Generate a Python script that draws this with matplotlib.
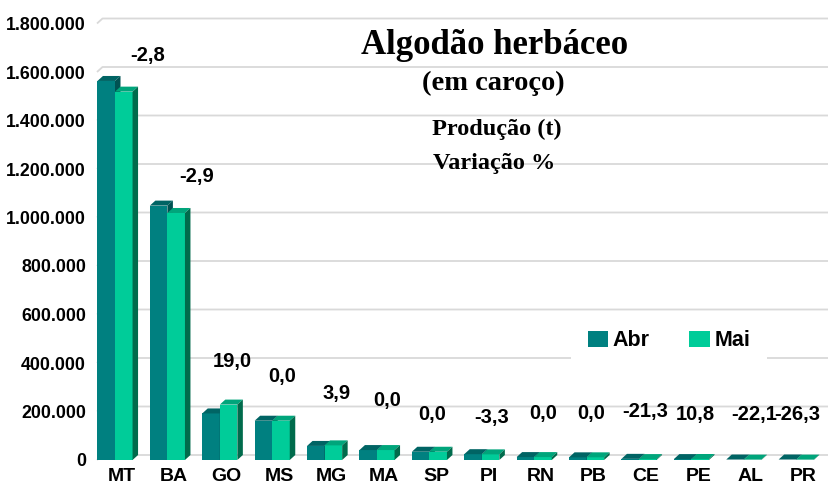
import matplotlib
matplotlib.use('Agg')
import matplotlib.pyplot as plt
from matplotlib.patches import Polygon, Patch
import numpy as np

# ---------------- data ----------------
states = ['MT', 'BA', 'GO', 'MS', 'MG', 'MA', 'SP', 'PI', 'RN', 'PB', 'CE', 'PE', 'AL', 'PR']
abr = [1563000, 1049000, 192000, 162000, 58000, 41000, 34000, 24000, 12000, 11000, 4700, 3700, 1900, 2000]
mai = [1519000, 1018600, 228500, 162000, 60300, 41000, 34000, 23200, 12000, 11000, 3700, 4100, 1500, 1500]
variacao = ['-2,8', '-2,9', '19,0', '0,0', '3,9', '0,0', '0,0', '-3,3', '0,0', '0,0',
            '-21,3', '10,8', '-22,1', '-26,3']
series_names = ['Abr', 'Mai']
yticks = list(range(0, 1800001, 200000))

# ---------------- style ----------------
W, H = 830, 484
SANS = 'Liberation Sans'
SERIF = 'Liberation Serif'
abr_front, abr_top, abr_side = '#008080', '#006464', '#005252'
mai_front, mai_top, mai_side = '#00CC99', '#00A57B', '#006B4C'
grid_c = '#D9D9D9'

fig = plt.figure(figsize=(W / 100, H / 100), dpi=100)
fig.patch.set_facecolor('white')

px_unit = 52.4            # pixels per category
x0_px, y0_px, ytop_px = 115, 460, 23.5
left_px, right_px = 97, 823
xmin = -(x0_px - left_px) / px_unit
xmax = (right_px - x0_px) / px_unit
ax = fig.add_axes([left_px / W, (H - y0_px) / H, (right_px - left_px) / W, (y0_px - ytop_px) / H])
ax.set_xlim(xmin, xmax)
ax.set_ylim(0, 1800000)
for s in ax.spines.values():
    s.set_visible(False)
ax.set_facecolor('none')

ppv = (y0_px - ytop_px) / 1800000   # pixels per value
dx = 5.5 / px_unit
dy = 5.0 / ppv
w = 0.335

# back-wall gridlines (3D look)
xr = (W - 2 - x0_px) / px_unit
for v in yticks:
    ax.plot([xmin, xmin + dx, xr], [v, v + dy, v + dy], color=grid_c, lw=1.3,
            zorder=1, clip_on=False, solid_capstyle='butt')

x = np.arange(len(states))


def bar3d(xl, h, front, top, side, z):
    xr_ = xl + w
    ax.add_patch(Polygon([(xl, h), (xr_, h), (xr_ + dx, h + dy), (xl + dx, h + dy)],
                         closed=True, facecolor=top, edgecolor='none', zorder=z))
    ax.add_patch(Polygon([(xr_, 0), (xr_ + dx, dy), (xr_ + dx, h + dy), (xr_, h)],
                         closed=True, facecolor=side, edgecolor='none', zorder=z))


ax.bar(x - w / 2, abr, width=w, color=abr_front, zorder=3, linewidth=0)
for xi, h in zip(x, abr):
    bar3d(xi - w, h, abr_front, abr_top, abr_side, 3)
ax.bar(x + w / 2, mai, width=w, color=mai_front, zorder=4, linewidth=0)
for xi, h in zip(x, mai):
    bar3d(xi, h, mai_front, mai_top, mai_side, 4)

# ticks
ax.set_yticks(yticks)
ax.set_yticklabels([f"{v:,}".replace(',', '.') for v in yticks],
                   fontsize=12.8, fontweight='bold', family=SANS)
ax.set_xticks(x + 0.13)
ax.set_xticklabels(states, fontsize=14, fontweight='bold', family=SANS)
ax.tick_params(axis='y', length=0, pad=8)
ax.tick_params(axis='x', length=0, pad=6)

# variation labels (positions in category offset / data height)
lab_dx = [0.63, 0.56, 0.24, 0.19, 0.22, 0.19, 0.06, 0.18, 0.17, 0.09, 0.12, 0.07, 0.20, 0.02]
lab_y = [1670000, 1169000, 408000, 344000, 274000, 247000, 186000, 177000, 192000, 192000,
         202000, 186000, 186000, 186000]
for xi, t, ddx, yy in zip(x, variacao, lab_dx, lab_y):
    ax.text(xi + ddx, yy, t, ha='center', va='center', fontsize=14.5,
            fontweight='bold', family=SANS, zorder=6)

# titles
def ftext(px, py, s, size):
    fig.text(px / W, 1 - py / H, s, ha='center', va='center', fontsize=size,
             fontweight='bold', family=SERIF)

ftext(495, 45, 'Algodão herbáceo', 25)
ftext(493, 83, '(em caroço)', 20.5)
ftext(497, 129, 'Produção (t)', 17.5)
ftext(494, 164, 'Variação %', 17.5)

# legend
handles = [Patch(facecolor=abr_front, edgecolor='none'), Patch(facecolor=mai_front, edgecolor='none')]
leg = ax.legend(handles, series_names, ncol=2, loc='center',
                bbox_to_anchor=(669 / W, 1 - 341 / H), bbox_transform=fig.transFigure,
                frameon=True, facecolor='white', edgecolor='none', framealpha=1,
                fancybox=False, prop={'family': SANS, 'weight': 'bold', 'size': 15.5},
                handlelength=0.95, handleheight=0.75, handletextpad=0.2,
                columnspacing=1.85, borderpad=0.8)
leg.set_zorder(5)

fig.savefig('out.png', dpi=100, facecolor='white')
